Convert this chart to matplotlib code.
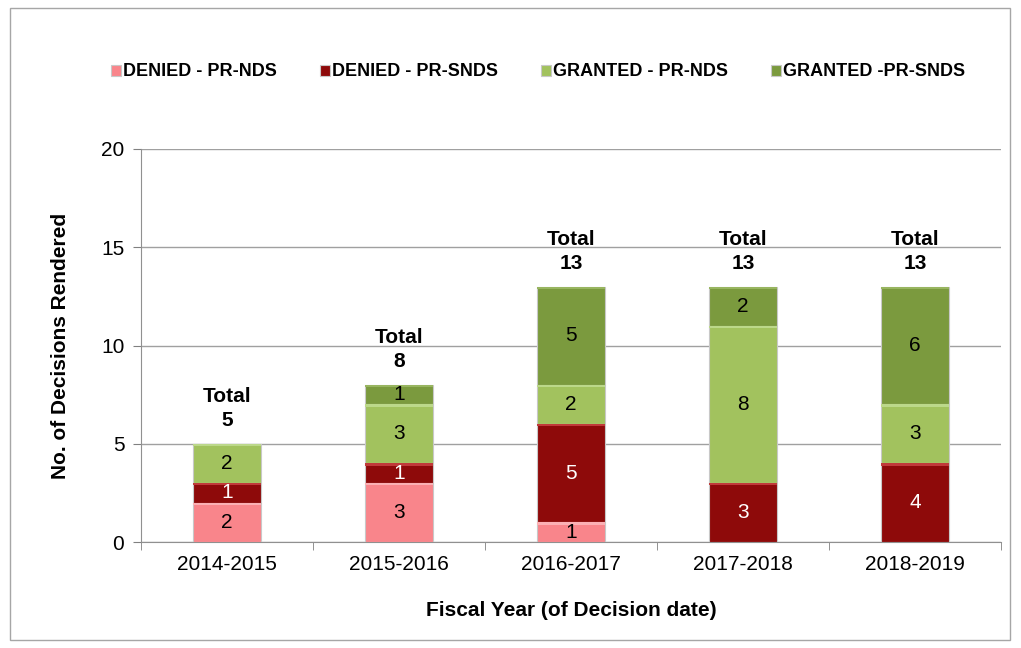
import numpy as np
import matplotlib.pyplot as plt
from matplotlib.patches import Rectangle

years = ['2014-2015', '2015-2016', '2016-2017', '2017-2018', '2018-2019']
denied_nds = [2, 3, 1, 0, 0]
denied_snds = [1, 1, 5, 3, 4]
granted_nds = [2, 3, 2, 8, 3]
granted_snds = [0, 1, 5, 2, 6]
series_names = ['DENIED - PR-NDS', 'DENIED - PR-SNDS', 'GRANTED - PR-NDS', 'GRANTED -PR-SNDS']
colors = ['#F9858B', '#8E0A0A', '#A2C25E', '#7B9A3E']
highlights = ['#FBB0B4', '#C03A3A', '#BCD88A', '#98B560']
label_colors = ['black', 'white', 'black', 'black']

plt.rcParams['font.family'] = ['Liberation Sans', 'DejaVu Sans']

fig = plt.figure(figsize=(10.21, 6.48), dpi=100)
ax = fig.add_axes([141 / 1021, 1 - 542 / 648, 860 / 1021, 393 / 648])

# frame round the whole chart
fig.patches.append(Rectangle((10 / 1021, 8 / 648), 1000 / 1021, 632 / 648,
                             transform=fig.transFigure, fill=False,
                             edgecolor='#a6a6a6', linewidth=1))

x = np.arange(len(years))
data = [denied_nds, denied_snds, granted_nds, granted_snds]
bottom = np.zeros(len(years))
handles = []
for vals, name, col, hl, lc in zip(data, series_names, colors, highlights, label_colors):
    vals = np.array(vals, dtype=float)
    b = ax.bar(x, vals, 0.4, bottom=bottom, color=col, edgecolor='#c8c8c8',
               linewidth=0.8, label=name, zorder=3)
    handles.append(b)
    # light bevel strip on top of each segment
    strip = np.where(vals > 0, 0.12, 0)
    ax.bar(x, strip, 0.4, bottom=bottom + vals - strip, color=hl,
           linewidth=0, zorder=3.5)
    for xi, v, bt in zip(x, vals, bottom):
        if v > 0:
            ax.text(xi, bt + v / 2, f'{int(v)}', ha='center', va='center',
                    fontsize=15, color=lc, zorder=4)
    bottom += vals

totals = bottom
for xi, t in zip(x, totals):
    ax.text(xi, t + 0.7, f'Total\n{int(t)}', ha='center', va='bottom',
            fontsize=15, fontweight='bold', linespacing=1.35)

ax.set_xlim(-0.5, len(years) - 0.5)
ax.set_ylim(0, 20)
ax.set_yticks([0, 5, 10, 15, 20])
ax.set_xticks(x)
ax.set_xticklabels(years)
ax.set_xticks(np.arange(len(years) + 1) - 0.5, minor=True)
ax.tick_params(axis='x', which='major', length=0, labelsize=15, pad=9)
ax.tick_params(axis='x', which='minor', length=6, color='#808080')
ax.tick_params(axis='y', length=6, color='#808080', labelsize=15, pad=6)
ax.grid(axis='y', color='#a0a0a0', linewidth=1, zorder=0)
for s in ['top', 'right']:
    ax.spines[s].set_visible(False)
for s in ['left', 'bottom']:
    ax.spines[s].set_color('#909090')

ax.set_ylabel('No. of Decisions Rendered', fontsize=15, fontweight='bold', labelpad=22)
ax.set_xlabel('Fiscal Year (of Decision date)', fontsize=15, fontweight='bold', labelpad=20)

fig.legend(handles=handles, loc='center', bbox_to_anchor=(538 / 1021, 1 - 72 / 648),
           ncol=4, frameon=False, handlelength=0.55, handleheight=0.55,
           handletextpad=0.1, columnspacing=2.4,
           prop={'weight': 'bold', 'size': 13})

fig.savefig('out.png', dpi=100)
